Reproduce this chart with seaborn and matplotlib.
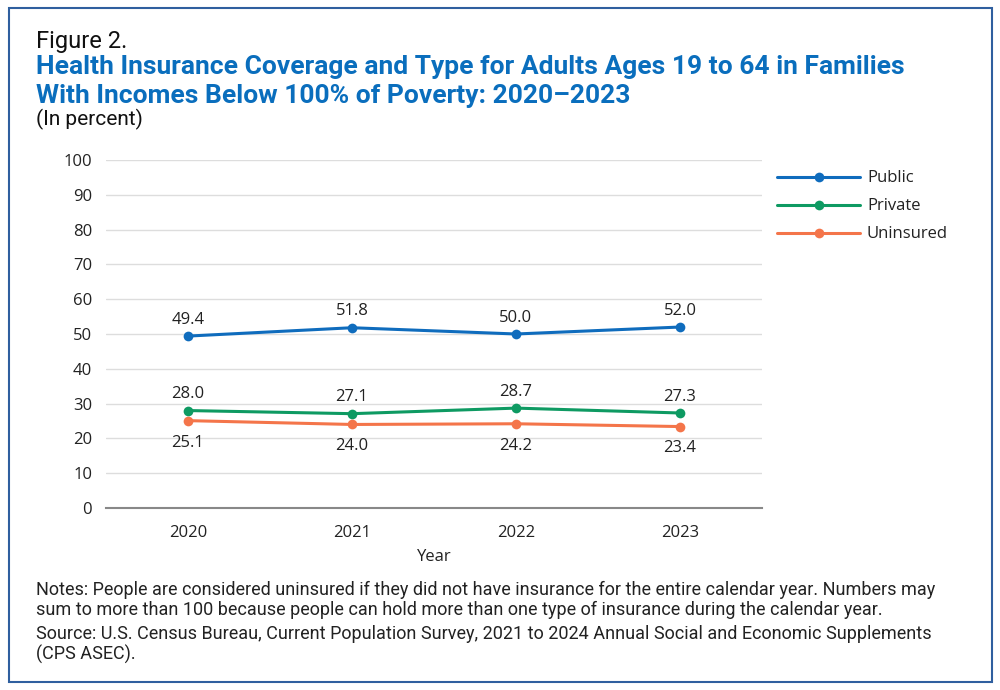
import matplotlib
matplotlib.use('Agg')
import matplotlib.pyplot as plt
import matplotlib.patches as mpatches
import seaborn as sns
import pandas as pd

years = ['2020', '2021', '2022', '2023']
public = [49.4, 51.8, 50.0, 52.0]
private = [28.0, 27.1, 28.7, 27.3]
uninsured = [25.1, 24.0, 24.2, 23.4]

series_names = ['Public', 'Private', 'Uninsured']
colors = ['#0f6cbd', '#0e9a62', '#f4754a']

df = pd.DataFrame({
    'Year': years * 3,
    'Percent': public + private + uninsured,
    'Type': [n for n in series_names for _ in years],
})

sns.set_style('white')
plt.rcParams['font.family'] = ['Open Sans', 'DejaVu Sans']
narrow = ['Roboto', 'DejaVu Sans']

fig = plt.figure(figsize=(10, 6.9), dpi=100)
ax = fig.add_axes([0.106, 0.2638, 0.656, 0.5043])

sns.lineplot(data=df, x='Year', y='Percent', hue='Type', palette=colors,
             marker='o', markersize=7, markeredgewidth=0, linewidth=2.2,
             sort=False, ax=ax)

ax.set_xlim(-0.5, 3.5)
ax.set_ylim(0, 100)
ax.set_yticks(range(0, 101, 10))
ax.grid(axis='y', color='#dddddd', linewidth=1)
ax.set_axisbelow(True)
for s in ['top', 'right', 'left']:
    ax.spines[s].set_visible(False)
ax.spines['bottom'].set_color('#888888')
ax.spines['bottom'].set_linewidth(1.5)
ax.tick_params(axis='both', length=0, labelsize=12, colors='#222222', pad=10)
ax.tick_params(axis='x', pad=12)
ax.set_xlabel('Year', fontsize=12, color='#222222', labelpad=6)
ax.set_ylabel('')

for i, y in enumerate(years):
    ax.annotate(f'{public[i]:.1f}', (i, public[i]), xytext=(0, 6), textcoords='offset points',
                ha='center', va='bottom', fontsize=12, color='#222222')
    ax.annotate(f'{private[i]:.1f}', (i, private[i]), xytext=(0, 6), textcoords='offset points',
                ha='center', va='bottom', fontsize=12, color='#222222')
    ax.annotate(f'{uninsured[i]:.1f}', (i, uninsured[i]), xytext=(0, -10), textcoords='offset points',
                ha='center', va='top', fontsize=12, color='#222222')

leg = ax.legend(loc='upper left', bbox_to_anchor=(1.0, 1.013), frameon=False,
                fontsize=12, handlelength=5.0, handletextpad=0.4, labelspacing=0.72)
for t in leg.get_texts():
    t.set_color('#222222')

fig.text(0.036, 0.94, 'Figure 2.', fontsize=17, family=narrow, color='#111111', va='center')
fig.text(0.036, 0.903, 'Health Insurance Coverage and Type for Adults Ages 19 to 64 in Families',
         fontsize=19, family=narrow, weight='bold', color='#0a6ebd', va='center')
fig.text(0.036, 0.861, 'With Incomes Below 100% of Poverty: 2020\u20132023',
         fontsize=19, family=narrow, weight='bold', color='#0a6ebd', va='center')
fig.text(0.036, 0.827, '(In percent)', fontsize=15, family=narrow, color='#111111', va='center')

notes = ('Notes: People are considered uninsured if they did not have insurance for the entire calendar year. Numbers may\n'
         'sum to more than 100 because people can hold more than one type of insurance during the calendar year.')
source = ('Source: U.S. Census Bureau, Current Population Survey, 2021 to 2024 Annual Social and Economic Supplements\n'
          '(CPS ASEC).')
fig.text(0.036, 0.158, notes, fontsize=13, family=narrow, color='#222222', va='top', linespacing=1.12)
fig.text(0.036, 0.094, source, fontsize=13, family=narrow, color='#222222', va='top', linespacing=1.12)

fig.patches.append(mpatches.Rectangle((0.009, 0.011), 0.983, 0.977, transform=fig.transFigure,
                                      fill=False, edgecolor='#2f5f9f', linewidth=1.5))

fig.savefig('out.png', dpi=100, facecolor='white')
